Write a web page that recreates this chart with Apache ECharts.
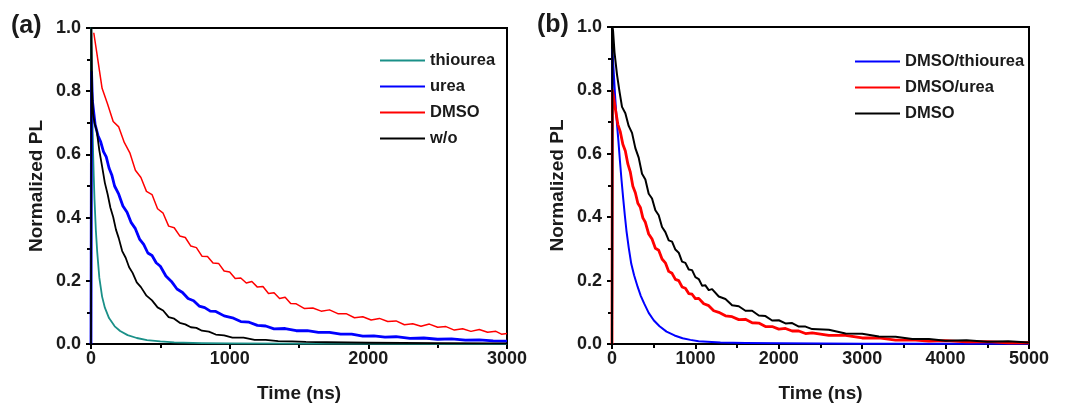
<!DOCTYPE html>
<html>
<head>
<meta charset="utf-8">
<script src="https://cdn.jsdelivr.net/npm/echarts@6/dist/echarts.min.js"></script>
<style>
html,body{margin:0;padding:0;background:#fff;}
#chart{width:1072px;height:408px;}
</style>
</head>
<body>
<div id="chart"></div>
<script>
// ---------- Panel (a): [time (ns), normalized PL] ----------
const a_thiourea = [[0,0],[2,1.0],[6,0.82],[10,0.72],[15,0.61],[20,0.53],[25,0.46],[35,0.36],[45,0.29],[60,0.21],[80,0.15],[100,0.115],[130,0.082],[171,0.056],[210,0.041],[264,0.028],[330,0.019],[404,0.0125],[500,0.008],[600,0.005],[800,0.003],[1000,0.002],[1500,0.001],[3000,0.0005]];
const a_urea = [[0,0],[4,0.86],[10,0.77],[30,0.694],[50,0.66],[70,0.64],[90,0.609],[110,0.592],[130,0.557],[150,0.535],[170,0.5],[200,0.474],[230,0.437],[260,0.417],[290,0.384],[320,0.365],[350,0.332],[380,0.315],[410,0.288],[440,0.28],[470,0.257],[500,0.246],[540,0.215],[580,0.198],[620,0.174],[660,0.163],[700,0.144],[740,0.137],[780,0.12],[820,0.115],[860,0.104],[900,0.103],[960,0.089],[1020,0.083],[1080,0.071],[1140,0.069],[1200,0.059],[1260,0.057],[1320,0.048],[1400,0.049],[1480,0.042],[1560,0.042],[1640,0.037],[1720,0.037],[1800,0.031],[1880,0.031],[1960,0.025],[2040,0.026],[2120,0.022],[2200,0.023],[2300,0.018],[2400,0.019],[2500,0.015],[2600,0.016],[2700,0.012],[2800,0.013],[2900,0.010],[3000,0.009]];
const a_dmso = [[20,0.985],[40,0.927],[80,0.809],[120,0.759],[160,0.704],[200,0.687],[240,0.638],[280,0.605],[320,0.55],[360,0.527],[400,0.483],[440,0.473],[480,0.428],[520,0.414],[560,0.373],[600,0.368],[640,0.342],[680,0.337],[720,0.31],[760,0.305],[800,0.278],[840,0.277],[880,0.256],[920,0.255],[960,0.231],[1000,0.228],[1040,0.207],[1080,0.209],[1120,0.193],[1160,0.198],[1200,0.18],[1240,0.182],[1280,0.16],[1320,0.162],[1360,0.144],[1400,0.148],[1440,0.128],[1480,0.127],[1540,0.112],[1600,0.114],[1660,0.104],[1720,0.108],[1780,0.096],[1840,0.096],[1900,0.083],[1960,0.086],[2020,0.076],[2080,0.081],[2140,0.071],[2200,0.073],[2260,0.061],[2320,0.064],[2380,0.056],[2440,0.063],[2500,0.053],[2560,0.055],[2620,0.044],[2680,0.048],[2740,0.04],[2800,0.046],[2860,0.037],[2920,0.04],[2960,0.031],[3000,0.033]];
const a_wo = [[0,0],[3,1.0],[8,0.80],[15,0.73],[25,0.70],[42,0.673],[60,0.613],[80,0.562],[100,0.51],[120,0.474],[140,0.431],[160,0.402],[180,0.362],[200,0.335],[225,0.294],[250,0.273],[275,0.243],[300,0.225],[330,0.195],[360,0.18],[400,0.153],[440,0.138],[480,0.116],[520,0.106],[560,0.085],[600,0.08],[640,0.067],[680,0.062],[720,0.053],[760,0.051],[800,0.042],[850,0.039],[900,0.03],[960,0.027],[1020,0.02],[1100,0.02],[1180,0.013],[1260,0.013],[1350,0.009],[1450,0.0085],[1550,0.0065],[1700,0.0055],[2000,0.004],[2500,0.003],[3000,0.002]];

// ---------- Panel (b) ----------
const b_thiourea = [[0,0],[5,0.93],[20,0.86],[40,0.77],[58,0.70],[77,0.64],[95,0.578],[115,0.515],[135,0.457],[155,0.403],[173,0.358],[200,0.305],[231,0.253],[265,0.217],[308,0.18],[345,0.152],[385,0.128],[440,0.098],[500,0.075],[570,0.056],[654,0.039],[750,0.027],[846,0.018],[940,0.013],[1038,0.009],[1300,0.005],[1600,0.003],[2000,0.002],[3000,0.001],[5000,0.001]];
const b_urea = [[0,0],[5,0.80],[12,0.79],[40,0.742],[70,0.693],[100,0.669],[130,0.63],[160,0.609],[190,0.568],[220,0.542],[250,0.498],[280,0.477],[310,0.444],[340,0.431],[370,0.398],[400,0.384],[440,0.347],[480,0.331],[520,0.302],[560,0.296],[600,0.268],[640,0.256],[680,0.229],[720,0.223],[760,0.204],[800,0.2],[840,0.18],[880,0.176],[920,0.159],[960,0.157],[1000,0.143],[1040,0.144],[1100,0.127],[1160,0.121],[1220,0.105],[1280,0.1],[1360,0.089],[1440,0.086],[1520,0.077],[1600,0.078],[1680,0.067],[1760,0.066],[1840,0.055],[1920,0.055],[2000,0.047],[2080,0.049],[2160,0.041],[2240,0.041],[2320,0.033],[2400,0.035],[2600,0.027],[2800,0.027],[3000,0.019],[3200,0.019],[3400,0.012],[3600,0.013],[3800,0.009],[4000,0.0105],[4250,0.0065],[4500,0.0075],[4750,0.004],[5000,0.004]];
const b_dmso = [[0,0],[5,1.0],[12,0.99],[30,0.92],[60,0.85],[90,0.796],[120,0.748],[160,0.728],[200,0.688],[240,0.666],[280,0.618],[320,0.588],[360,0.537],[400,0.519],[440,0.474],[480,0.459],[520,0.422],[560,0.406],[600,0.369],[640,0.353],[680,0.327],[720,0.323],[760,0.298],[800,0.288],[840,0.26],[880,0.256],[920,0.235],[960,0.233],[1000,0.211],[1040,0.205],[1080,0.184],[1120,0.185],[1160,0.17],[1200,0.173],[1280,0.15],[1360,0.142],[1440,0.122],[1520,0.119],[1600,0.105],[1680,0.105],[1760,0.09],[1840,0.088],[1920,0.074],[2000,0.075],[2080,0.065],[2160,0.066],[2240,0.055],[2320,0.055],[2400,0.047],[2600,0.045],[2800,0.033],[3000,0.032],[3200,0.024],[3400,0.023],[3600,0.016],[3800,0.016],[4000,0.01],[4250,0.012],[4500,0.007],[4750,0.0085],[5000,0.005]];

const xTicksA = [0, 1000, 2000, 3000];
const xTicksB = [0, 1000, 2000, 3000, 4000, 5000];
const yTicks = [0.0, 0.2, 0.4, 0.6, 0.8, 1.0];

const colTeal = '#1a9088', colBlue = '#0000ff', colRed = '#ff0000', colBlack = '#000000';
const FONT = '"Liberation Sans", Arial, sans-serif';
const TXT = '#1a1a1a';

function xAxis(gi, ticks) {
  return {
    type: 'value', gridIndex: gi, min: ticks[0], max: ticks[ticks.length - 1], interval: ticks[1] - ticks[0],
    name: 'Time (ns)', nameLocation: 'middle', nameGap: 40,
    nameTextStyle: {fontFamily: FONT, fontWeight: 'bold', fontSize: 19, color: TXT},
    axisLine: {show: true, lineStyle: {color: '#000', width: 2}},
    axisTick: {show: true, inside: false, length: 5, lineStyle: {color: '#000', width: 2}},
    minorTick: {show: true, splitNumber: 2, length: 4, lineStyle: {color: '#000', width: 2}},
    splitLine: {show: false}, minorSplitLine: {show: false},
    axisLabel: {fontFamily: FONT, fontWeight: 'bold', fontSize: 18, color: TXT, margin: 6,
      formatter: v => String(v)}
  };
}
function yAxis(gi) {
  return {
    type: 'value', gridIndex: gi, min: yTicks[0], max: yTicks[yTicks.length - 1], interval: yTicks[1] - yTicks[0],
    name: 'Normalized PL', nameLocation: 'middle', nameGap: 45,
    nameTextStyle: {fontFamily: FONT, fontWeight: 'bold', fontSize: 19, color: TXT},
    axisLine: {show: true, lineStyle: {color: '#000', width: 2}},
    axisTick: {show: true, inside: false, length: 5, lineStyle: {color: '#000', width: 2}},
    minorTick: {show: true, splitNumber: 2, length: 4, lineStyle: {color: '#000', width: 2}},
    splitLine: {show: false}, minorSplitLine: {show: false},
    axisLabel: {fontFamily: FONT, fontWeight: 'bold', fontSize: 18, color: TXT, margin: 10,
      formatter: v => v.toFixed(1)}
  };
}
function line(name, data, color, gi, w) {
  return {name: name, type: 'line', xAxisIndex: gi, yAxisIndex: gi, data: data,
    showSymbol: false, symbol: 'none', smooth: false, clip: true,
    lineStyle: {color: color, width: w, join: 'round'}, itemStyle: {color: color}, z: 3};
}
const legendText = {fontFamily: FONT, fontWeight: 'bold', fontSize: 16.5, color: TXT, lineHeight: 16};

const chart = echarts.init(document.getElementById('chart'), null, {renderer: 'canvas'});
chart.setOption({
  backgroundColor: '#ffffff',
  animation: false,
  grid: [
    {left: 91, right: 565, top: 28, bottom: 61, show: true, borderColor: '#000', borderWidth: 2},
    {left: 612, right: 43, top: 27, bottom: 61, show: true, borderColor: '#000', borderWidth: 2}
  ],
  xAxis: [xAxis(0, xTicksA), xAxis(1, xTicksB)],
  yAxis: [yAxis(0), yAxis(1)],
  legend: [
    {data: ['thiourea', 'urea', 'DMSO ', 'w/o'], orient: 'vertical', left: 380, top: 52, padding: 0,
     icon: 'rect', itemWidth: 45, itemHeight: 2, itemGap: 9, textStyle: legendText},
    {data: ['DMSO/thiourea', 'DMSO/urea', 'DMSO'], orient: 'vertical', left: 855, top: 53, padding: 0,
     icon: 'rect', itemWidth: 45, itemHeight: 2, itemGap: 9, textStyle: legendText}
  ],
  graphic: [
    {type: 'text', left: 11, top: 14, style: {text: '(a)', font: 'bold 25px ' + FONT, fill: TXT}},
    {type: 'text', left: 537, top: 13, style: {text: '(b)', font: 'bold 25px ' + FONT, fill: TXT}}
  ],
  series: [
    line('thiourea', a_thiourea, colTeal, 0, 1.8),
    line('urea', a_urea, colBlue, 0, 2.8),
    line('DMSO ', a_dmso, colRed, 0, 1.5),
    line('w/o', a_wo, colBlack, 0, 1.8),
    line('DMSO/thiourea', b_thiourea, colBlue, 1, 2),
    line('DMSO/urea', b_urea, colRed, 1, 2.8),
    line('DMSO', b_dmso, colBlack, 1, 2)
  ]
});
</script>
</body>
</html>
